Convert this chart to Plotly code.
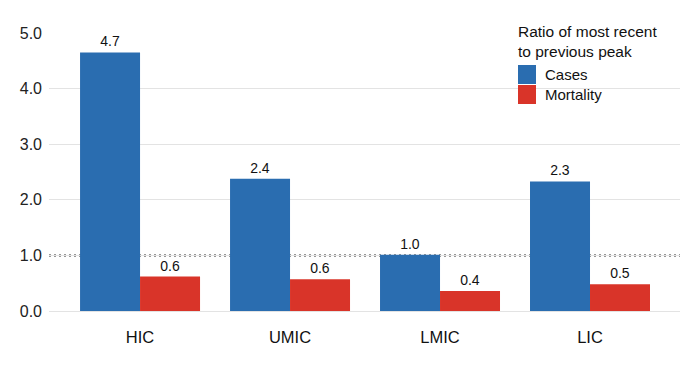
import plotly.graph_objects as go

categories = ["HIC", "UMIC", "LMIC", "LIC"]
cases = [4.65, 2.38, 1.01, 2.33]
mortality = [0.62, 0.57, 0.36, 0.48]
series_names = ["Cases", "Mortality"]
legend_title = "Ratio of most recent<br>to previous peak"
y_ticks = [0, 1, 2, 3, 4, 5]
y_tick_labels = ["0.0", "1.0", "2.0", "3.0", "4.0", "5.0"]
reference_level = 1.0

BLUE = "#2a6db0"
RED = "#d93429"
FONT = "Liberation Sans, Arial, sans-serif"

OFF = 8  # page body margin
W, H = 700 - OFF, 367 - OFF
ML, MR, MT, MB = 49 - OFF, 20, 33 - OFF, 56
PW, PH = W - ML - MR, H - MT - MB


def px_x(p):
    return (p - OFF - ML) / PW


def px_y(p):
    return 1 - (p - OFF - MT) / PH


fig = go.Figure()
for name, vals, col in [(series_names[0], cases, BLUE), (series_names[1], mortality, RED)]:
    fig.add_trace(go.Bar(
        x=categories, y=vals, name=name, marker=dict(color=col, line=dict(width=0)),
        texttemplate="%{y:.1f}", textposition="outside",
        textfont=dict(family=FONT, size=14, color="#111"),
        cliponaxis=False, showlegend=False,
    ))

shapes = [
    dict(type="line", xref="paper", x0=0, x1=1, yref="y", y0=reference_level, y1=reference_level,
         line=dict(color="#333", width=2, dash="2px,3px"), layer="between"),
    dict(type="rect", xref="paper", yref="paper", x0=px_x(508), x1=px_x(664),
         y0=px_y(108), y1=px_y(18), fillcolor="white", line=dict(width=0), layer="between"),
    dict(type="rect", xref="paper", yref="paper", x0=px_x(518), x1=px_x(536),
         y0=px_y(84), y1=px_y(65), fillcolor=BLUE, line=dict(width=0), layer="above"),
    dict(type="rect", xref="paper", yref="paper", x0=px_x(518), x1=px_x(536),
         y0=px_y(104), y1=px_y(85), fillcolor=RED, line=dict(width=0), layer="above"),
]

annotations = [
    dict(text=legend_title, xref="paper", yref="paper", x=px_x(516), y=px_y(21),
         xanchor="left", yanchor="top", align="left", showarrow=False,
         font=dict(family=FONT, size=15.5, color="#111")),
    dict(text=series_names[0], xref="paper", yref="paper", x=px_x(543), y=px_y(74.5),
         xanchor="left", yanchor="middle", showarrow=False,
         font=dict(family=FONT, size=15, color="#111")),
    dict(text=series_names[1], xref="paper", yref="paper", x=px_x(543), y=px_y(94.5),
         xanchor="left", yanchor="middle", showarrow=False,
         font=dict(family=FONT, size=15, color="#111")),
]

fig.update_layout(
    width=W, height=H,
    margin=dict(l=ML, r=MR, t=MT, b=MB, pad=0),
    plot_bgcolor="white", paper_bgcolor="white",
    barmode="group", bargap=0.2, bargroupgap=0,
    shapes=shapes, annotations=annotations,
    xaxis=dict(range=[-0.607, 3.6], showgrid=False, zeroline=False, showline=False,
               ticks="", tickfont=dict(family=FONT, size=16.5, color="#111"),
               ticklabelstandoff=14),
    yaxis=dict(range=[0, 5], tickvals=y_ticks, ticktext=y_tick_labels,
               showgrid=True, gridcolor="#e3e3e3", gridwidth=1,
               zeroline=True, zerolinecolor="#e3e3e3", zerolinewidth=1,
               showline=False, ticks="", ticklabelstandoff=6,
               tickfont=dict(family=FONT, size=16, color="#222")),
    font=dict(family=FONT),
)

fig.write_html("out.html")
